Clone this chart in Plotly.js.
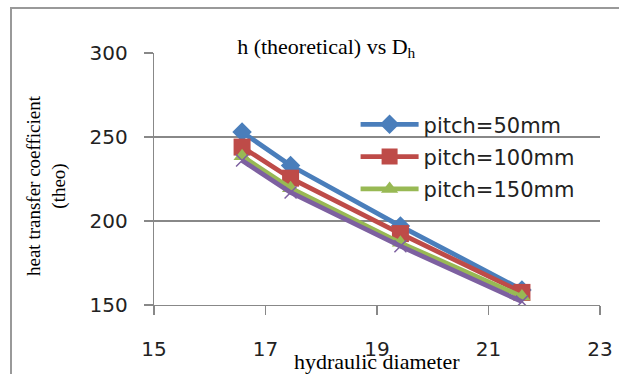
<!DOCTYPE html>
<html>
<head>
<meta charset="utf-8">
<script src="https://cdn.plot.ly/plotly-3.0.1.min.js"></script>
<style>
  html, body { margin: 0; padding: 0; background: #fff; }
  #wrap { position: relative; width: 619px; height: 374px; }
  #chart { width: 619px; height: 374px; }
  #frame { position: absolute; left: 10px; top: 7px; right: -5px; bottom: -5px;
           border-left: 2px solid #999; border-top: 2px solid #999; pointer-events: none; }
</style>
</head>
<body>
<div id="wrap">
  <div id="chart"></div>
  <div id="frame"></div>
</div>
<script>
// Hydraulic diameter (x) for every series
const hydraulicDiameter = [16.58, 17.45, 19.42, 21.6];
// Theoretical heat transfer coefficient per pitch
const pitch50  = [253, 233, 197, 159];
const pitch100 = [244, 225.5, 192.5, 157.5];
const pitch150 = [238.5, 219.5, 187, 155];
const pitchX   = [236, 217, 185, 152];

const seriesNames = ['pitch=50mm', 'pitch=100mm', 'pitch=150mm', 'pitch=200mm'];
const xTicks = [15, 17, 19, 21, 23];
const yTicks = [150, 200, 250, 300];

const colors = ['#4A7EBB', '#BE4B48', '#98B954', '#7D60A0'];
const symbols = ['diamond', 'square', 'triangle-up', 'x-thin'];
const sizes = [15, 17, 15, 12];
const ys = [pitch50, pitch100, pitch150, pitchX];

const traces = ys.map((y, i) => ({
  type: 'scatter',
  mode: 'lines+markers',
  name: seriesNames[i],
  x: hydraulicDiameter,
  y: y,
  showlegend: i < 3,
  legendgroup: 'g' + i,
  line: { color: colors[i], width: 4.8 },
  marker: { symbol: symbols[i], size: sizes[i], color: colors[i],
            line: { color: colors[i], width: i === 3 ? 1.5 : 0 } }
}));

const serif = 'Liberation Serif, Times New Roman, serif';
const sans = 'DejaVu Sans, sans-serif';

const layout = {
  width: 619, height: 374,
  margin: { l: 154, r: 19, t: 53, b: 69, pad: 0 },
  paper_bgcolor: '#fff', plot_bgcolor: '#fff',
  showlegend: true,
  title: {
    text: 'h (theoretical) vs D<sub>h</sub>',
    font: { family: serif, size: 22, color: '#000' },
    xref: 'container', yref: 'container',
    x: 0.527, xanchor: 'center', y: 1 - 46 / 374, yanchor: 'middle'
  },
  xaxis: {
    range: [15, 23], tickvals: xTicks, ticktext: xTicks.map(String),
    showgrid: false, zeroline: false,
    showline: true, linecolor: '#888', linewidth: 1.3,
    ticks: 'outside', ticklen: 9, tickcolor: '#888', tickwidth: 1.3,
    ticklabelstandoff: 17,
    tickfont: { family: sans, size: 20, color: '#222' }
  },
  yaxis: {
    range: [150, 300], tickvals: yTicks, ticktext: yTicks.map(String),
    showgrid: true, gridcolor: '#888', gridwidth: 1.3, zeroline: false,
    showline: true, linecolor: '#888', linewidth: 1.3,
    ticks: 'outside', ticklen: 9, tickcolor: '#888', tickwidth: 1.3,
    ticklabelstandoff: 12,
    tickfont: { family: sans, size: 20, color: '#222' }
  },
  legend: {
    x: 0.452, y: 0.797, xanchor: 'left', yanchor: 'top',
    bgcolor: 'rgba(0,0,0,0)', borderwidth: 0,
    font: { family: sans, size: 21, color: '#222' },
    traceorder: 'grouped', tracegroupgap: 2, itemwidth: 58
  },
  annotations: [
    { text: 'hydraulic diameter', xref: 'paper', yref: 'paper',
      x: (377 - 154) / 446, y: (305 - 361) / 252, xanchor: 'center', yanchor: 'middle',
      showarrow: false, font: { family: serif, size: 22, color: '#000' } },
    { text: 'heat transfer coefficient<br>(theo)', xref: 'paper', yref: 'paper',
      x: (46 - 154) / 446, y: (305 - 186) / 252, xanchor: 'center', yanchor: 'middle',
      textangle: -90, showarrow: false,
      font: { family: serif, size: 19, color: '#000' } }
  ]
};

Plotly.newPlot('chart', traces, layout, { displayModeBar: false, staticPlot: true });
</script>
</body>
</html>
